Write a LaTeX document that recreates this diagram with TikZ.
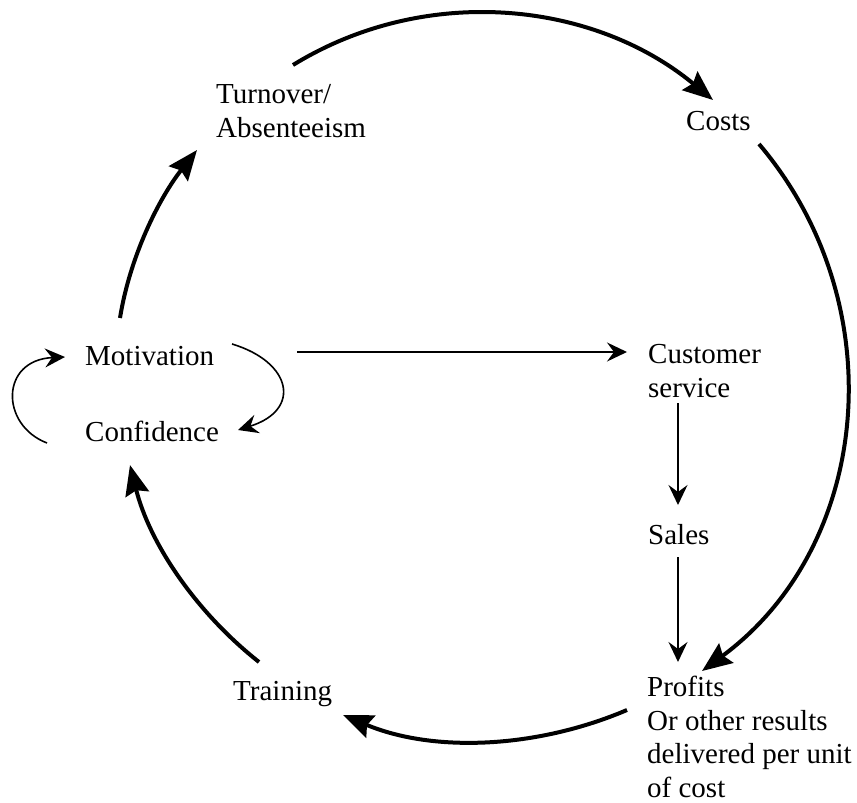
\documentclass[tikz,border=0pt]{standalone}
\usepackage{fontspec}
\setmainfont{Liberation Serif}
\usetikzlibrary{arrows.meta}
\tikzset{
  lbl/.style={anchor=base west, inner sep=0pt, align=left,
    font=\fontsize{29}{33.5}\selectfont},
  bigarc/.style={line width=4pt, -{Stealth[length=30pt,width=24pt,inset=4pt]}},
  thinarr/.style={line width=1.6pt, -{Stealth[length=20pt,width=19pt,inset=7pt]}}
}
\begin{document}
\begin{tikzpicture}[x=1pt,y=-1pt]
    \useasboundingbox (0,0) rectangle (857,803);
    % labels (multi-line ones sit on their last line)
    \node[lbl] (turnover) at (216,137) {Turnover/\\Absenteeism};
    \node[lbl] (costs) at (686,130) {Costs};
    \node[lbl] (motivation) at (85,365) {Motivation};
    \node[lbl] (confidence) at (85,441) {Confidence};
    \node[lbl] (customer) at (648,397) {Customer\\service};
    \node[lbl] (sales) at (648,544) {Sales};
    \node[lbl] (profits) at (647,797) {Profits\\Or other results\\delivered per unit\\of cost};
    \node[lbl] (training) at (233,700) {Training};
    % outer cycle
    \draw[bigarc] ([shift={(35,-47)}]motivation.base west) .. controls +(9.8,-61.1) and +(-38.3,48.6) .. ([shift={(-19,13)}]turnover.base west);
    \draw[bigarc] ([shift={(77,-72)}]turnover.base west) .. controls +(132.6,-81.5) and +(-119.9,-99.2) .. ([shift={(27,-30)}]costs.base west);
    \draw[bigarc] ([shift={(73,14)}]costs.base west) .. controls +(136.1,160.6) and +(169.4,-124.9) .. ([shift={(55,-126)}]profits.base west);
    \draw[bigarc] ([shift={(-20,-87)}]profits.base west) .. controls +(-90.3,38.5) and +(90.6,37.9) .. ([shift={(110,15)}]training.base west);
    \draw[bigarc] ([shift={(26,-38)}]training.base west) .. controls +(-63.2,-49.9) and +(19.5,78.1) .. ([shift={(45,24)}]confidence.base west);
    % inner arrows
    \draw[thinarr] ([shift={(212,-13)}]motivation.base west) -- ([shift={(-21,-45)}]customer.base west);
    \draw[thinarr] ([shift={(30,6)}]customer.base west) -- ([shift={(30,-39)}]sales.base west);
    \draw[thinarr] ([shift={(30,13)}]sales.base west) -- ([shift={(31,-135)}]profits.base west);
    \draw[thinarr] ([shift={(147,-21)}]motivation.base west) .. controls +(60,18) and +(64,-20) .. ([shift={(153,-11)}]confidence.base west);
    \draw[thinarr] ([shift={(-38,2)}]confidence.base west) .. controls +(-47,-18) and +(-65,3) .. ([shift={(-20,-8)}]motivation.base west);
\end{tikzpicture}
\end{document}
